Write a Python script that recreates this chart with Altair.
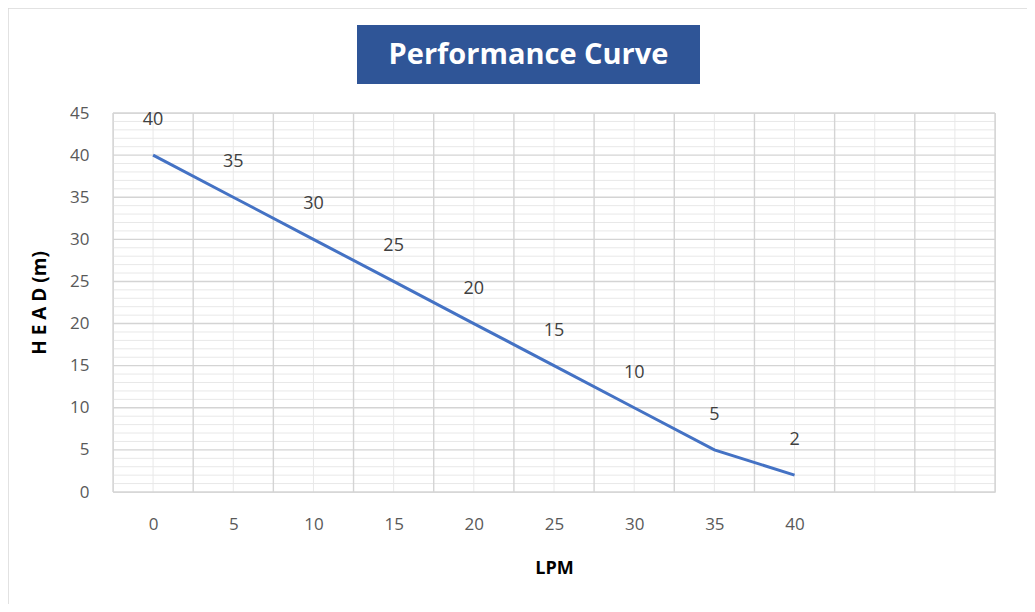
import altair as alt
import pandas as pd

lpm = [0, 5, 10, 15, 20, 25, 30, 35, 40]
head = [40, 35, 30, 25, 20, 15, 10, 5, 2]
x_centers = [0, 5, 10, 15, 20, 25, 30, 35, 40, 45, 50]
x_bounds = [-2.5, 2.5, 7.5, 12.5, 17.5, 22.5, 27.5, 32.5, 37.5, 42.5, 47.5, 52.5]
y_major = [0, 5, 10, 15, 20, 25, 30, 35, 40, 45]
y_minor = [v for v in range(0, 46) if v % 5 != 0]

df = pd.DataFrame({"lpm": lpm, "head": head})

W, H = 882, 379
FONT = "Open Sans"

xs = alt.Scale(domain=[-2.5, 52.5], nice=False, zero=False)
ys = alt.Scale(domain=[0, 45], nice=False)

x_axis = alt.Axis(values=lpm, title="LPM", grid=False, ticks=False, domain=False,
                  labelFont=FONT, labelFontSize=17, labelColor="#595959", labelPadding=24,
                  titleFont=FONT, titleFontSize=18, titleFontWeight="bold", titleColor="#000000",
                  titlePadding=27)
y_axis = alt.Axis(values=y_major, title="H E A D (m)", grid=False, ticks=False, domain=False,
                  labelFont=FONT, labelFontSize=17, labelColor="#595959", labelPadding=24,
                  titleFont=FONT, titleFontSize=19, titleFontWeight="bold", titleColor="#000000",
                  titlePadding=20)

minor_h = alt.Chart(pd.DataFrame({"v": y_minor})).mark_rule(color="#e8e8e8", strokeWidth=1).encode(
    y=alt.Y("v:Q", scale=ys, axis=y_axis, title="H E A D (m)"))
minor_v = alt.Chart(pd.DataFrame({"v": x_centers})).mark_rule(color="#e8e8e8", strokeWidth=1).encode(
    x=alt.X("v:Q", scale=xs, axis=x_axis, title="LPM"))
major_h = alt.Chart(pd.DataFrame({"v": y_major})).mark_rule(color="#d4d4d4", strokeWidth=1.4).encode(
    y=alt.Y("v:Q", scale=ys, axis=y_axis, title="H E A D (m)"))
major_v = alt.Chart(pd.DataFrame({"v": x_bounds})).mark_rule(color="#d4d4d4", strokeWidth=1.4).encode(
    x=alt.X("v:Q", scale=xs, axis=x_axis, title="LPM"))

base = alt.Chart(df)
line = base.mark_line(color="#4472C4", strokeWidth=3, interpolate="linear").encode(
    x=alt.X("lpm:Q", scale=xs, axis=x_axis, title="LPM"),
    y=alt.Y("head:Q", scale=ys, axis=y_axis, title="H E A D (m)"),
)
labels = base.mark_text(font=FONT, fontSize=18, color="#404040", dy=-35).encode(
    x=alt.X("lpm:Q", scale=xs, axis=x_axis, title="LPM"),
    y=alt.Y("head:Q", scale=ys, axis=y_axis, title="H E A D (m)"),
    text=alt.Text("head:Q"))

outer = alt.Chart(pd.DataFrame({"k": [0]})).mark_rect(
    fillOpacity=0, stroke="#d9d9d9", strokeWidth=1.5).encode(
    x=alt.value(-105), x2=alt.value(940), y=alt.value(-105), y2=alt.value(520))

title_box = alt.Chart(pd.DataFrame({"t": ["Performance Curve"]})).mark_rect(
    fill="#2F5597").encode(x=alt.value(244), x2=alt.value(587), y=alt.value(-88), y2=alt.value(-29))
title_txt = alt.Chart(pd.DataFrame({"t": ["Performance Curve"]})).mark_text(
    font=FONT, fontSize=29, fontWeight="bold", color="white", align="center", baseline="middle").encode(
    x=alt.value(415.5), y=alt.value(-58), text="t:N")

chart = alt.layer(outer, minor_h, minor_v, major_h, major_v, line, labels, title_box, title_txt).properties(
    width=W, height=H,
    autosize=alt.AutoSizeParams(type="none"),
    padding={"left": 105, "top": 105, "right": 32, "bottom": 112},
).configure_view(stroke="#d4d4d4", strokeWidth=1.5).configure(background="white")

chart.save("out.html", embed_options={"renderer": "svg", "actions": False})
